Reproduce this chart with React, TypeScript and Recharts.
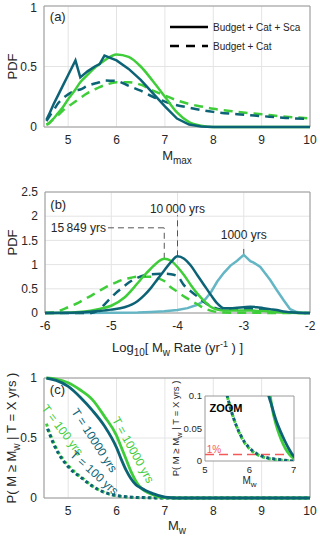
import {
  CartesianGrid,
  Legend,
  Line,
  LineChart,
  ReferenceArea,
  ReferenceDot,
  ReferenceLine,
  XAxis,
  YAxis,
} from "recharts";

const TEAL = "#0d6376";
const GREEN = "#3fcd3a";
const LIGHT = "#64b6c5";
const RED = "#f25a5a";
const INK = "#262626";
const GRID = "#e4e4e4";
const BOX = "#9a9a9a";
const FONT = "'Liberation Sans', Arial, Helvetica, sans-serif";

// (a) Mmax PDFs
const aMw = [4.55, 4.6, 4.7, 4.8, 4.9, 5.0, 5.15, 5.25, 5.4, 5.55, 5.65, 5.75, 6.0, 6.25, 6.5, 6.75, 7.0, 7.25, 7.5, 7.75, 8.0, 8.5, 9.0, 9.5, 10];
const aTealSca = [0.06, 0.1, 0.19, 0.27, 0.35, 0.43, 0.55, 0.41, 0.46, 0.5, 0.52, 0.59, 0.55, 0.48, 0.39, 0.28, 0.17, 0.07, 0.02, 0.004, 0, 0, 0, 0, 0];
const aGreenSca = [0.02, 0.03, 0.07, 0.12, 0.17, 0.23, 0.31, 0.37, 0.43, 0.49, 0.52, 0.55, 0.6, 0.58, 0.5, 0.38, 0.25, 0.12, 0.04, 0.01, 0, 0, 0, 0, 0];
const aTealCat = [0.05, 0.08, 0.14, 0.2, 0.24, 0.27, 0.3, 0.31, 0.34, 0.36, 0.37, 0.385, 0.38, 0.34, 0.3, 0.25, 0.21, 0.18, 0.16, 0.14, 0.125, 0.105, 0.09, 0.075, 0.065];
const aGreenCat = [0.02, 0.03, 0.07, 0.1, 0.14, 0.17, 0.21, 0.24, 0.28, 0.31, 0.33, 0.345, 0.37, 0.37, 0.35, 0.3, 0.26, 0.22, 0.19, 0.17, 0.15, 0.125, 0.105, 0.085, 0.072];
const aXTicks = [5, 6, 7, 8, 9, 10];
const aYTicks = [0, 0.5, 1];
const legendRows = ["Budget + Cat + Sca", "Budget + Cat"];

// (b) log10 rate PDFs, [log10 rate, pdf]
const bGreenSca = [[-6, 0], [-5.6, 0.01], [-5.4, 0.03], [-5.2, 0.08], [-5.0, 0.15], [-4.8, 0.32], [-4.6, 0.62], [-4.5, 0.78], [-4.4, 0.92], [-4.3, 1.05], [-4.2, 1.12], [-4.1, 1.08], [-4.0, 0.95], [-3.9, 0.78], [-3.8, 0.58], [-3.7, 0.4], [-3.6, 0.25], [-3.5, 0.13], [-3.4, 0.07], [-3.3, 0.05], [-3.1, 0.05], [-2.9, 0.05], [-2.7, 0.04], [-2.5, 0.02], [-2.3, 0.005], [-2, 0]];
const bTealSca = [[-6, 0], [-5.6, 0.005], [-5.2, 0.04], [-5.0, 0.07], [-4.8, 0.12], [-4.6, 0.25], [-4.5, 0.37], [-4.4, 0.52], [-4.3, 0.7], [-4.2, 0.88], [-4.1, 1.05], [-4.0, 1.17], [-3.9, 1.12], [-3.8, 0.98], [-3.7, 0.78], [-3.6, 0.58], [-3.5, 0.38], [-3.4, 0.2], [-3.3, 0.1], [-3.2, 0.1], [-3.1, 0.11], [-3.0, 0.12], [-2.9, 0.13], [-2.8, 0.12], [-2.7, 0.1], [-2.6, 0.08], [-2.5, 0.06], [-2.4, 0.03], [-2.3, 0.015], [-2.1, 0], [-2, 0]];
const bTealCat = [[-6, 0], [-5.3, 0], [-5.2, 0.05], [-5.1, 0.18], [-5.0, 0.32], [-4.9, 0.45], [-4.8, 0.56], [-4.7, 0.66], [-4.6, 0.73], [-4.5, 0.78], [-4.4, 0.8], [-4.2, 0.81], [-4.1, 0.8], [-4.0, 0.76], [-3.9, 0.57], [-3.8, 0.45], [-3.7, 0.34], [-3.6, 0.23], [-3.5, 0.14], [-3.4, 0.09], [-3.3, 0.07], [-3.1, 0.07], [-2.9, 0.08], [-2.7, 0.07], [-2.5, 0.04], [-2.3, 0.01], [-2, 0]];
const bGreenCat = [[-6, 0], [-5.9, 0.01], [-5.8, 0.04], [-5.7, 0.09], [-5.6, 0.15], [-5.5, 0.21], [-5.4, 0.29], [-5.3, 0.36], [-5.2, 0.44], [-5.1, 0.52], [-5.0, 0.59], [-4.9, 0.65], [-4.8, 0.7], [-4.7, 0.73], [-4.6, 0.75], [-4.5, 0.75], [-4.4, 0.75], [-4.3, 0.72], [-4.2, 0.66], [-4.1, 0.53], [-4.0, 0.44], [-3.9, 0.34], [-3.8, 0.26], [-3.7, 0.18], [-3.6, 0.1], [-3.5, 0.05], [-3.4, 0.02], [-3.3, 0.01], [-3, 0.005], [-2, 0]];
const b1000yrs = [[-6, 0], [-5.5, 0], [-5, 0.005], [-4.6, 0.01], [-4.4, 0.02], [-4.2, 0.035], [-4, 0.06], [-3.85, 0.1], [-3.7, 0.17], [-3.6, 0.25], [-3.5, 0.42], [-3.4, 0.65], [-3.3, 0.83], [-3.2, 0.98], [-3.1, 1.08], [-3.0, 1.2], [-2.9, 1.07], [-2.85, 1.04], [-2.75, 0.95], [-2.6, 0.68], [-2.5, 0.47], [-2.4, 0.27], [-2.3, 0.08], [-2.2, 0.02], [-2.1, 0.005], [-2, 0]];
const bXTicks = [-6, -5, -4, -3, -2];
const bYTicks = [0, 0.5, 1, 1.5, 2, 2.5];

// (c) exceedance probability, [Mw, P]
const cGreen10000 = [[4.55, 1], [4.75, 0.99], [5.0, 0.96], [5.25, 0.9], [5.5, 0.82], [5.75, 0.68], [6.0, 0.52], [6.1, 0.42], [6.2, 0.32], [6.3, 0.22], [6.4, 0.14], [6.5, 0.085], [6.6, 0.055], [6.7, 0.035], [6.8, 0.02], [6.9, 0.01], [7.0, 0.004], [7.25, 0], [10, 0]];
const cTeal10000 = [[4.55, 1], [4.75, 0.98], [5.0, 0.93], [5.25, 0.84], [5.5, 0.73], [5.75, 0.6], [6.0, 0.42], [6.1, 0.32], [6.2, 0.23], [6.3, 0.16], [6.4, 0.11], [6.5, 0.085], [6.6, 0.062], [6.7, 0.045], [6.8, 0.03], [6.9, 0.017], [7.0, 0.007], [7.25, 0], [10, 0]];
const cGreen100 = [[4.55, 0.62], [4.6, 0.56], [4.7, 0.46], [4.8, 0.38], [4.9, 0.32], [5.0, 0.27], [5.1, 0.23], [5.2, 0.195], [5.3, 0.165], [5.4, 0.13], [5.5, 0.1], [5.6, 0.075], [5.7, 0.055], [5.8, 0.039], [5.9, 0.027], [6.0, 0.019], [6.1, 0.013], [6.2, 0.009], [6.3, 0.006], [6.4, 0.004], [6.6, 0.002], [6.8, 0.001], [7.0, 0], [10, 0]];
const cTeal100 = [[4.55, 0.6], [4.6, 0.55], [4.7, 0.45], [4.8, 0.37], [4.9, 0.31], [5.0, 0.26], [5.1, 0.22], [5.2, 0.19], [5.3, 0.16], [5.4, 0.128], [5.5, 0.1], [5.6, 0.075], [5.7, 0.055], [5.8, 0.04], [5.9, 0.028], [6.0, 0.02], [6.1, 0.014], [6.2, 0.01], [6.3, 0.007], [6.4, 0.005], [6.6, 0.003], [6.8, 0.001], [7.0, 0], [10, 0]];
const cXTicks = [5, 6, 7, 8, 9, 10];
const cYTicks = [0, 0.5, 1];
const zoomXTicks = [5, 6, 7];
const zoomYTicks = [0, 0.05, 0.1];
const onePercent = 0.01;

const pts = (pairs: number[][]) => pairs.map(([x, y]) => ({ x, y }));
const zip = (xs: number[], ys: number[]) => xs.map((x, i) => ({ x, y: ys[i] }));

const tickStyle = { fontSize: 12, fill: INK };

// small text placed at a data point (ReferenceDot label)
const tag =
  (text: string, color: string, angle = 0, size = 12, anchor = "middle", weight = "normal") =>
  (props: any) => {
    const { x, y } = props.viewBox;
    return (
      <text
        x={x}
        y={y}
        fill={color}
        fontSize={size}
        fontWeight={weight}
        textAnchor={anchor}
        dominantBaseline="central"
        transform={angle ? `rotate(${angle} ${x} ${y})` : undefined}
      >
        {text}
      </text>
    );
  };

const xTitle = (drop: number, body: any, size = 13) => (props: any) => {
  const vb = props.viewBox;
  return (
    <text x={vb.x + vb.width / 2} y={vb.y + drop} textAnchor="middle" fontSize={size} fill={INK}>
      {body}
    </text>
  );
};

const yTitle = (bx: number, shift: number, body: any, size = 13) => (props: any) => {
  const vb = props.viewBox;
  const cy = vb.y + vb.height / 2 + shift;
  return (
    <text x={bx} y={cy} transform={`rotate(-90 ${bx} ${cy})`} textAnchor="middle" fontSize={size} fill={INK}>
      {body}
    </text>
  );
};

const renderLegend = () => (
  <svg width={140} height={34}>
    {legendRows.map((t, i) => (
      <g key={t}>
        <line x1={2} x2={40} y1={6 + i * 19} y2={6 + i * 19} stroke="#000" strokeWidth={2.6} strokeDasharray={i ? "9 7" : undefined} />
        <text x={45} y={9.5 + i * 19} fontSize={10} fill={INK} fontFamily={FONT}>
          {t}
        </text>
      </g>
    ))}
  </svg>
);

function PanelA() {
  return (
    <LineChart width={320} height={167} margin={{ top: 6, right: 10, bottom: 0, left: 0 }}>
      <CartesianGrid stroke={GRID} />
      <XAxis
        type="number"
        dataKey="x"
        domain={[4.5, 10]}
        ticks={aXTicks}
        tick={tickStyle}
        tickLine={false}
        axisLine={false}
        tickSize={5}
        tickMargin={3}
        height={40}
        label={xTitle(33, ["M", <tspan key="s" dy={4} fontSize={10}>max</tspan>])}
      />
      <YAxis
        type="number"
        domain={[0, 1]}
        ticks={aYTicks}
        tick={tickStyle}
        tickLine={false}
        axisLine={false}
        tickSize={5}
        tickMargin={2}
        width={44}
        label={yTitle(17, 0, "PDF")}
      />
      <ReferenceArea x1={4.5} x2={10} y1={0} y2={1} fill="none" stroke={BOX} />
      <Line data={zip(aMw, aGreenCat)} dataKey="y" type="monotone" stroke={GREEN} strokeWidth={2.5} strokeDasharray="9 6" dot={false} activeDot={false} isAnimationActive={false} />
      <Line data={zip(aMw, aTealCat)} dataKey="y" type="monotone" stroke={TEAL} strokeWidth={2.5} strokeDasharray="9 6" dot={false} activeDot={false} isAnimationActive={false} />
      <Line data={zip(aMw, aGreenSca)} dataKey="y" type="monotone" stroke={GREEN} strokeWidth={2.5} dot={false} activeDot={false} isAnimationActive={false} />
      <Line data={zip(aMw, aTealSca)} dataKey="y" type="linear" stroke={TEAL} strokeWidth={2.5} dot={false} activeDot={false} isAnimationActive={false} />
      <ReferenceDot x={4.62} y={0.915} r={0} stroke="none" fill="none" label={tag("(a)", INK, 0, 13, "start")} />
      <Legend
        layout="horizontal"
        verticalAlign="middle"
        align="center"
        content={renderLegend}
        wrapperStyle={{ left: 168, top: 21, width: 140, height: 34 }}
      />
    </LineChart>
  );
}

function PanelB() {
  const dash = "6 4";
  return (
    <LineChart width={320} height={178} margin={{ top: 12, right: 10, bottom: 0, left: 0 }}>
      <CartesianGrid stroke={GRID} />
      <XAxis
        type="number"
        dataKey="x"
        domain={[-6, -2]}
        ticks={bXTicks}
        tick={tickStyle}
        tickLine={false}
        axisLine={false}
        tickSize={5}
        tickMargin={3}
        height={45}
        label={xTitle(39, [
          "Log",
          <tspan key="a" dy={4} fontSize={10}>10</tspan>,
          <tspan key="b" dy={-4}>{"[\u00a0M"}</tspan>,
          <tspan key="c" dy={4} fontSize={10}>w</tspan>,
          <tspan key="d" dy={-4}>{"\u00a0Rate (yr"}</tspan>,
          <tspan key="e" dy={-5} fontSize={9}>-1</tspan>,
          <tspan key="f" dy={5}>{"\u00a0)\u00a0]"}</tspan>,
        ])}
      />
      <YAxis
        type="number"
        domain={[0, 2.5]}
        ticks={bYTicks}
        tick={tickStyle}
        tickLine={false}
        axisLine={false}
        tickSize={5}
        tickMargin={2}
        width={45}
        label={yTitle(17, -10, "PDF")}
      />
      <ReferenceArea x1={-6} x2={-2} y1={0} y2={2.5} fill="none" stroke={BOX} />
      <ReferenceLine segment={[{ x: -4.2, y: 1.12 }, { x: -4.2, y: 1.76 }]} stroke="#555" strokeDasharray={dash} />
      <ReferenceLine segment={[{ x: -5.05, y: 1.76 }, { x: -4.2, y: 1.76 }]} stroke="#555" strokeDasharray={dash} />
      <ReferenceLine segment={[{ x: -4, y: 1.17 }, { x: -4, y: 2.02 }]} stroke="#555" strokeDasharray={dash} />
      <ReferenceLine segment={[{ x: -3, y: 1.2 }, { x: -3, y: 1.4 }]} stroke="#555" strokeDasharray={dash} />
      <Line data={pts(b1000yrs)} dataKey="y" type="linear" stroke={LIGHT} strokeWidth={2.5} dot={false} activeDot={false} isAnimationActive={false} />
      <Line data={pts(bGreenCat)} dataKey="y" type="monotone" stroke={GREEN} strokeWidth={2.5} strokeDasharray="9 6" dot={false} activeDot={false} isAnimationActive={false} />
      <Line data={pts(bTealCat)} dataKey="y" type="monotone" stroke={TEAL} strokeWidth={2.5} strokeDasharray="9 6" dot={false} activeDot={false} isAnimationActive={false} />
      <Line data={pts(bGreenSca)} dataKey="y" type="monotone" stroke={GREEN} strokeWidth={2.5} dot={false} activeDot={false} isAnimationActive={false} />
      <Line data={pts(bTealSca)} dataKey="y" type="monotone" stroke={TEAL} strokeWidth={2.5} dot={false} activeDot={false} isAnimationActive={false} />
      <ReferenceDot x={-5.92} y={2.25} r={0} stroke="none" fill="none" label={tag("(b)", INK, 0, 13, "start")} />
      <ReferenceDot x={-5.08} y={1.76} r={0} stroke="none" fill="none" label={tag("15\u2009849 yrs", INK, 0, 12, "end")} />
      <ReferenceDot x={-4} y={2.14} r={0} stroke="none" fill="none" label={tag("10\u2009000 yrs", INK, 0, 12)} />
      <ReferenceDot x={-3} y={1.62} r={0} stroke="none" fill="none" label={tag("1000 yrs", INK, 0, 12)} />
    </LineChart>
  );
}

function PanelC() {
  return (
    <LineChart width={320} height={174} margin={{ top: 12, right: 10, bottom: 0, left: 0 }}>
      <CartesianGrid stroke={GRID} />
      <XAxis
        type="number"
        dataKey="x"
        domain={[4.5, 10]}
        ticks={cXTicks}
        tick={tickStyle}
        tickLine={false}
        axisLine={false}
        tickSize={5}
        tickMargin={3}
        height={42}
        label={xTitle(32, ["M", <tspan key="s" dy={4} fontSize={10}>w</tspan>])}
      />
      <YAxis
        type="number"
        domain={[0, 1]}
        ticks={cYTicks}
        tick={tickStyle}
        tickLine={false}
        axisLine={false}
        tickSize={5}
        tickMargin={2}
        width={44}
        label={yTitle(16, 0, [
          "P(\u00a0M\u00a0\u2265\u00a0M",
          <tspan key="w" dy={4} fontSize={10}>w</tspan>,
          <tspan key="r" dy={-4}>{"\u00a0|\u00a0T\u00a0=\u00a0X\u00a0yrs\u00a0)"}</tspan>,
        ])}
      />
      <ReferenceArea x1={4.5} x2={10} y1={0} y2={1} fill="none" stroke={BOX} />
      <Line data={pts(cGreen100)} dataKey="y" type="monotone" stroke={GREEN} strokeWidth={3} strokeDasharray="3 3" dot={false} activeDot={false} isAnimationActive={false} />
      <Line data={pts(cTeal100)} dataKey="y" type="monotone" stroke={TEAL} strokeWidth={3} strokeDasharray="3 3" strokeDashoffset={3} dot={false} activeDot={false} isAnimationActive={false} />
      <Line data={pts(cGreen10000)} dataKey="y" type="monotone" stroke={GREEN} strokeWidth={2.8} dot={false} activeDot={false} isAnimationActive={false} />
      <Line data={pts(cTeal10000)} dataKey="y" type="monotone" stroke={TEAL} strokeWidth={2.8} dot={false} activeDot={false} isAnimationActive={false} />
      <ReferenceDot x={4.62} y={0.906} r={0} stroke="none" fill="none" label={tag("(c)", INK, 0, 13, "start")} />
      <ReferenceDot x={4.88} y={0.565} r={0} stroke="none" fill="none" label={tag("T = 100 yrs", GREEN, 53)} />
      <ReferenceDot x={5.54} y={0.48} r={0} stroke="none" fill="none" label={tag("T = 10000 yrs", TEAL, 57)} />
      <ReferenceDot x={6.34} y={0.4} r={0} stroke="none" fill="none" label={tag("T = 10000 yrs", GREEN, 61)} />
      <ReferenceDot x={5.54} y={0.21} r={0} stroke="none" fill="none" label={tag("T = 100 yrs", TEAL, 42)} />
    </LineChart>
  );
}

function ZoomInset() {
  const small = { fontSize: 9.5, fill: INK };
  return (
    <LineChart width={131} height={111} margin={{ top: 16, right: 2, bottom: 0, left: 0 }}>
      <CartesianGrid fill="#fff" fillOpacity={1} horizontal={false} vertical={false} />
      <XAxis
        type="number"
        dataKey="x"
        domain={[5, 7]}
        ticks={zoomXTicks}
        allowDataOverflow
        tick={small}
        tickLine={false}
        axisLine={false}
        tickSize={3}
        tickMargin={2}
        height={30}
        label={xTitle(23, ["M", <tspan key="s" dy={3} fontSize={8}>w</tspan>], 10)}
      />
      <YAxis
        type="number"
        domain={[0, 0.1]}
        ticks={zoomYTicks}
        allowDataOverflow
        tick={small}
        tickLine={false}
        axisLine={false}
        tickSize={1}
        tickMargin={2}
        width={40}
        label={yTitle(14, 0, [
          "P(\u00a0M\u00a0\u2265\u00a0M",
          <tspan key="w" dy={3} fontSize={7.5}>w</tspan>,
          <tspan key="r" dy={-3}>{"\u00a0|\u00a0T\u00a0=\u00a0X\u00a0yrs\u00a0)"}</tspan>,
        ], 9.5)}
      />
      <ReferenceLine y={onePercent} stroke={RED} strokeWidth={1.3} strokeDasharray="9 5" />
      <Line data={pts(cGreen100)} dataKey="y" type="monotone" stroke={GREEN} strokeWidth={3} strokeDasharray="3 3" dot={false} activeDot={false} isAnimationActive={false} />
      <Line data={pts(cTeal100)} dataKey="y" type="monotone" stroke={TEAL} strokeWidth={3} strokeDasharray="3 3" strokeDashoffset={3} dot={false} activeDot={false} isAnimationActive={false} />
      <Line data={pts(cGreen10000)} dataKey="y" type="monotone" stroke={GREEN} strokeWidth={2.8} dot={false} activeDot={false} isAnimationActive={false} />
      <Line data={pts(cTeal10000)} dataKey="y" type="monotone" stroke={TEAL} strokeWidth={2.8} dot={false} activeDot={false} isAnimationActive={false} />
      <ReferenceArea x1={5} x2={7} y1={0} y2={0.1} fill="none" stroke={BOX} />
      <ReferenceDot x={5.1} y={0.082} r={0} stroke="none" fill="none" label={tag("ZOOM", "#000", 0, 11, "start", "bold")} />
      <ReferenceDot x={5.04} y={0.018} r={0} stroke="none" fill="none" label={tag("1%", RED, 0, 10, "start")} />
    </LineChart>
  );
}

export default function App() {
  return (
    <div style={{ position: "absolute", left: 0, top: 0, width: 320, height: 540, background: "#fff", fontFamily: FONT }}>
      <div style={{ position: "absolute", left: 0, top: 0 }}>
        <PanelA />
      </div>
      <div style={{ position: "absolute", left: 0, top: 180 }}>
        <PanelB />
      </div>
      <div style={{ position: "absolute", left: 0, top: 366 }}>
        <PanelC />
      </div>
      <div style={{ position: "absolute", left: 165, top: 380 }}>
        <ZoomInset />
      </div>
    </div>
  );
}
